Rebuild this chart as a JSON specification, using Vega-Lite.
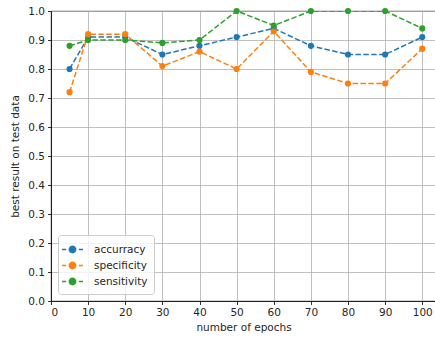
{
  "$schema": "https://vega.github.io/schema/vega-lite/v6.json",
  "autosize": "none",
  "padding": {"left": 51, "top": 11, "right": 0, "bottom": 37},
  "width": 385,
  "height": 290,
  "config": {
    "font": "DejaVu Sans",
    "view": {"stroke": "black", "strokeWidth": 0.8},
    "axis": {
      "labelFont": "DejaVu Sans", "labelFontSize": 10.5, "labelColor": "#262626",
      "titleFont": "DejaVu Sans", "titleFontSize": 10.5, "titleFontWeight": "normal", "titleColor": "#262626",
      "gridColor": "#b0b0b0", "gridWidth": 0.8, "gridOpacity": 1,
      "domainColor": "black", "domainWidth": 0.8,
      "tickColor": "black", "tickSize": 3.5, "tickWidth": 0.8,
      "labelPadding": 3
    }
  },
  "data": {"values": [
    {"epochs": 5, "series": "accurracy", "value": 0.80},
    {"epochs": 10, "series": "accurracy", "value": 0.91},
    {"epochs": 20, "series": "accurracy", "value": 0.91},
    {"epochs": 30, "series": "accurracy", "value": 0.85},
    {"epochs": 40, "series": "accurracy", "value": 0.88},
    {"epochs": 50, "series": "accurracy", "value": 0.91},
    {"epochs": 60, "series": "accurracy", "value": 0.94},
    {"epochs": 70, "series": "accurracy", "value": 0.88},
    {"epochs": 80, "series": "accurracy", "value": 0.85},
    {"epochs": 90, "series": "accurracy", "value": 0.85},
    {"epochs": 100, "series": "accurracy", "value": 0.91},
    {"epochs": 5, "series": "specificity", "value": 0.72},
    {"epochs": 10, "series": "specificity", "value": 0.92},
    {"epochs": 20, "series": "specificity", "value": 0.92},
    {"epochs": 30, "series": "specificity", "value": 0.81},
    {"epochs": 40, "series": "specificity", "value": 0.86},
    {"epochs": 50, "series": "specificity", "value": 0.80},
    {"epochs": 60, "series": "specificity", "value": 0.93},
    {"epochs": 70, "series": "specificity", "value": 0.79},
    {"epochs": 80, "series": "specificity", "value": 0.75},
    {"epochs": 90, "series": "specificity", "value": 0.75},
    {"epochs": 100, "series": "specificity", "value": 0.87},
    {"epochs": 5, "series": "sensitivity", "value": 0.88},
    {"epochs": 10, "series": "sensitivity", "value": 0.90},
    {"epochs": 20, "series": "sensitivity", "value": 0.90},
    {"epochs": 30, "series": "sensitivity", "value": 0.89},
    {"epochs": 40, "series": "sensitivity", "value": 0.90},
    {"epochs": 50, "series": "sensitivity", "value": 1.00},
    {"epochs": 60, "series": "sensitivity", "value": 0.95},
    {"epochs": 70, "series": "sensitivity", "value": 1.00},
    {"epochs": 80, "series": "sensitivity", "value": 1.00},
    {"epochs": 90, "series": "sensitivity", "value": 1.00},
    {"epochs": 100, "series": "sensitivity", "value": 0.94}
  ]},
  "encoding": {
    "x": {"field": "epochs", "type": "quantitative",
      "scale": {"domain": [0, 103.7], "nice": false, "zero": false},
      "axis": {"values": [0, 10, 20, 30, 40, 50, 60, 70, 80, 90, 100], "title": "number of epochs", "titlePadding": 4}},
    "y": {"field": "value", "type": "quantitative",
      "scale": {"domain": [0, 1], "nice": false},
      "axis": {"values": [0, 0.1, 0.2, 0.3, 0.4, 0.5, 0.6, 0.7, 0.8, 0.9, 1.0], "format": ".1f", "title": "best result on test data", "titlePadding": 7}},
    "color": {"field": "series", "type": "nominal",
      "scale": {"domain": ["accurracy", "specificity", "sensitivity"], "range": ["#1f77b4", "#ff7f0e", "#2ca02c"]},
      "legend": {
        "title": null, "orient": "bottom-left", "offset": 7,
        "symbolType": "M -1.4 0 H -0.85 M 0.85 0 H 1.4 M -0.42 0 A 0.42 0.42 0 1 1 0.42 0 A 0.42 0.42 0 1 1 -0.42 0 Z",
        "symbolSize": 225, "symbolStrokeWidth": 1.5, "symbolOpacity": 1,
        "labelFontSize": 10.5, "labelFont": "DejaVu Sans", "labelColor": "#262626",
        "rowPadding": 1, "labelOffset": 13,
        "fillColor": "rgba(255,255,255,0.8)", "strokeColor": "#cccccc", "cornerRadius": 3, "padding": 6
      }}
  },
  "layer": [
    {"mark": {"type": "line", "strokeDash": [5.5, 2.4], "strokeWidth": 1.5, "clip": true}},
    {"mark": {"type": "circle", "size": 38, "opacity": 1}}
  ]
}
